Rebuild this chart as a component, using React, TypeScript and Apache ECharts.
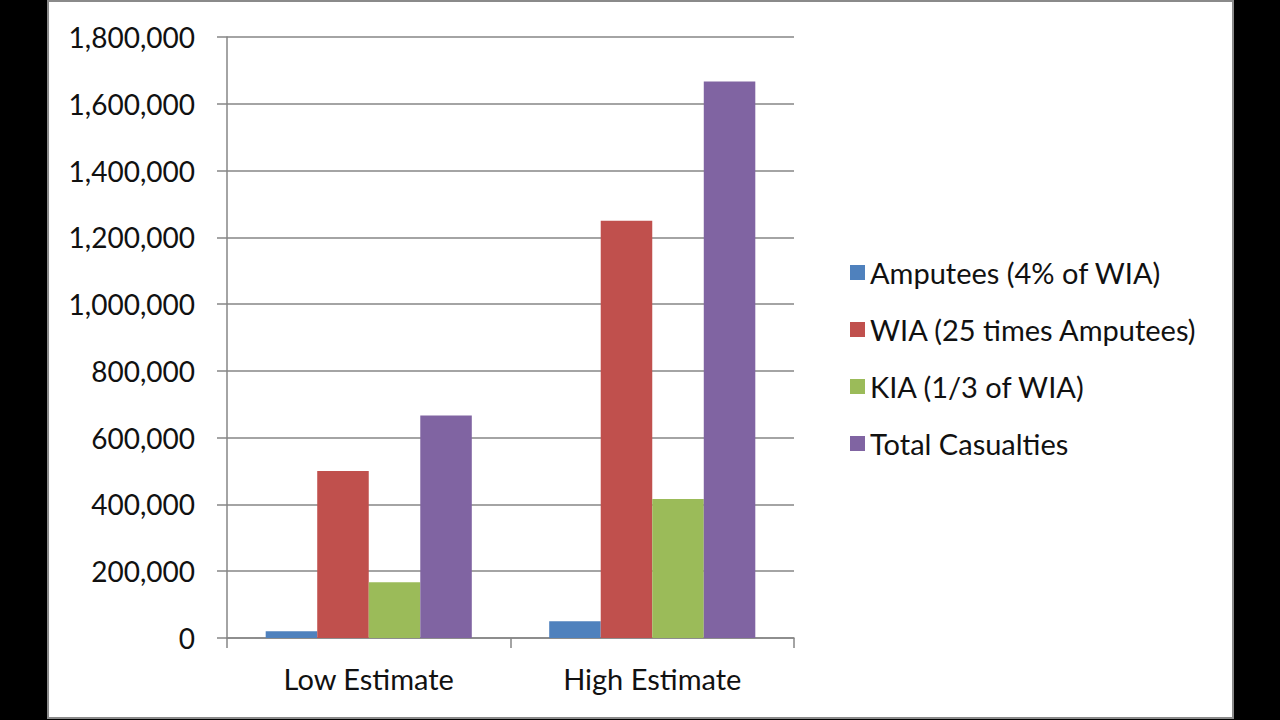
import React, { useEffect, useRef } from "react";
import * as echarts from "echarts";

const categories = ["Low Estimate", "High Estimate"];
const seriesNames = [
  "Amputees (4% of WIA)",
  "WIA (25 times Amputees)",
  "KIA (1/3 of WIA)",
  "Total Casualties",
];
const amputees = [20000, 50000];
const wia = [500000, 1250000];
const kia = [166667, 416667];
const total = [666667, 1666667];
const colors = ["#4F81BD", "#C0504D", "#9BBB59", "#8064A2"];

export default function App() {
  const ref = useRef<HTMLDivElement>(null);
  useEffect(() => {
    document.body.style.margin = "0";
    const chart = echarts.init(ref.current!, null, { renderer: "svg" });
    const values = [amputees, wia, kia, total];
    const font = "Lato, 'Open Sans', sans-serif";
    chart.setOption({
      animation: false,
      textStyle: { fontFamily: font },
      grid: { left: 227, right: 486, top: 37, bottom: 82 },
      legend: {
        orient: "vertical",
        left: 845,
        top: 253,
        itemWidth: 15,
        itemHeight: 15,
        itemGap: 28,
        icon: "rect",
        data: seriesNames,
        textStyle: { fontSize: 29, color: "#111", fontFamily: font },
      },
      xAxis: {
        type: "category",
        data: categories,
        axisLine: { lineStyle: { color: "#868686", width: 1.5 } },
        axisTick: { show: true, length: 10, lineStyle: { color: "#868686", width: 1.5 } },
        axisLabel: { fontSize: 29, color: "#111", margin: 26, fontFamily: font },
      },
      yAxis: {
        type: "value",
        min: 0,
        max: 1800000,
        interval: 200000,
        axisLine: { show: true, lineStyle: { color: "#868686", width: 1.5 } },
        axisTick: { show: true, length: 10, lineStyle: { color: "#868686", width: 1.5 } },
        splitLine: { lineStyle: { color: "#868686", width: 1.5 } },
        axisLabel: {
          fontSize: 28,
          color: "#111",
          margin: 32,
          fontFamily: font,
          formatter: (v: number) => v.toLocaleString("en-US"),
        },
      },
      series: seriesNames.map((name, i) => ({
        name,
        type: "bar",
        data: values[i],
        barGap: "0%",
        barCategoryGap: "27.3%",
        itemStyle: { color: colors[i] },
      })),
    });
    return () => chart.dispose();
  }, []);
  return (
    <div style={{ position: "relative", width: 1280, height: 720, background: "#000", overflow: "hidden" }}>
      <div
        style={{
          position: "absolute",
          left: 47,
          top: 0,
          width: 1183,
          height: 715,
          background: "#fff",
          border: "2px solid #8a8a8a",
        }}
      />
      <div ref={ref} style={{ position: "absolute", left: 0, top: 0, width: 1280, height: 720 }} />
    </div>
  );
}
